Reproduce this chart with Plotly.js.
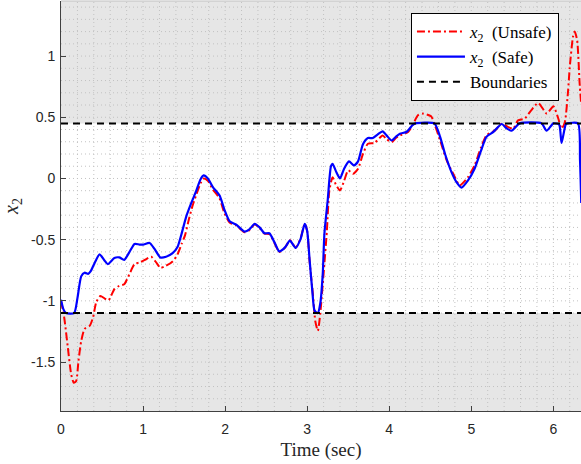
<!DOCTYPE html>
<html>
<head>
<meta charset="utf-8">
<script src="https://cdn.plot.ly/plotly-3.0.1.min.js"></script>
<style>html,body{margin:0;padding:0;background:#fff;}#chart{width:581px;height:464px;}</style>
</head>
<body>
<div id="chart"></div>
<script>
// ---- data ----
var tSafe = [0,0.03,0.06,0.16,0.2,0.246,0.287,0.33,0.36,0.41,0.47,0.53,0.57,0.65,0.71,0.77,0.835,0.896,0.957,1.0,1.08,1.14,1.21,1.28,1.36,1.42,1.466,1.527,1.588,1.649,1.698,1.738,1.79,1.851,1.933,1.994,2.055,2.137,2.238,2.30,2.36,2.42,2.48,2.54,2.60,2.66,2.73,2.79,2.86,2.92,2.97,3.0,3.03,3.063,3.09,3.13,3.16,3.19,3.21,3.25,3.29,3.31,3.35,3.40,3.45,3.51,3.57,3.62,3.68,3.74,3.80,3.86,3.92,3.97,4.03,4.08,4.13,4.21,4.29,4.32,4.55,4.62,4.68,4.76,4.82,4.88,4.96,5.04,5.12,5.185,5.27,5.37,5.43,5.49,5.59,5.856,5.917,6.0,6.07,6.10,6.15,6.17,6.30,6.325,6.34];
var x2Safe = [-0.99,-1.07,-1.10,-1.10,-0.98,-0.80,-0.77,-0.78,-0.76,-0.69,-0.62,-0.67,-0.70,-0.65,-0.645,-0.665,-0.60,-0.535,-0.54,-0.54,-0.527,-0.576,-0.645,-0.64,-0.61,-0.56,-0.46,-0.31,-0.20,-0.10,-0.01,0.025,0.0,-0.07,-0.14,-0.26,-0.35,-0.378,-0.434,-0.413,-0.371,-0.40,-0.448,-0.448,-0.52,-0.596,-0.563,-0.508,-0.568,-0.494,-0.371,-0.43,-0.67,-0.92,-1.08,-1.10,-1.02,-0.78,-0.45,-0.18,0.10,0.12,0.06,0.0,0.08,0.139,0.107,0.14,0.28,0.33,0.33,0.36,0.385,0.35,0.31,0.34,0.366,0.38,0.44,0.45,0.45,0.34,0.20,0.05,-0.03,-0.075,-0.016,0.079,0.23,0.34,0.38,0.445,0.41,0.39,0.45,0.45,0.39,0.45,0.44,0.29,0.44,0.45,0.45,0.15,-0.2];

var tUnsafe = [0,0.04,0.083,0.124,0.156,0.185,0.213,0.246,0.287,0.348,0.39,0.43,0.48,0.53,0.58,0.65,0.71,0.77,0.835,0.896,0.957,1.02,1.10,1.16,1.21,1.28,1.36,1.42,1.47,1.51,1.56,1.60,1.65,1.70,1.74,1.79,1.85,1.93,1.99,2.055,2.137,2.238,2.30,2.36,2.42,2.48,2.54,2.60,2.66,2.73,2.79,2.86,2.92,2.97,3.0,3.03,3.07,3.10,3.13,3.16,3.20,3.24,3.27,3.31,3.35,3.40,3.45,3.50,3.56,3.62,3.68,3.74,3.82,3.92,3.97,4.03,4.08,4.13,4.23,4.29,4.35,4.41,4.51,4.55,4.62,4.70,4.78,4.86,4.96,5.04,5.12,5.185,5.29,5.37,5.45,5.51,5.57,5.65,5.73,5.815,5.92,6.0,6.06,6.10,6.14,6.18,6.20,6.24,6.26,6.29,6.32,6.34];
var x2Unsafe = [-1.0,-1.14,-1.38,-1.60,-1.67,-1.655,-1.49,-1.33,-1.23,-1.205,-1.137,-1.01,-0.96,-0.98,-0.995,-0.905,-0.877,-0.865,-0.78,-0.70,-0.686,-0.666,-0.64,-0.686,-0.73,-0.713,-0.678,-0.62,-0.535,-0.467,-0.33,-0.23,-0.13,-0.04,0.0,-0.02,-0.09,-0.16,-0.28,-0.36,-0.385,-0.44,-0.42,-0.375,-0.405,-0.45,-0.455,-0.525,-0.60,-0.565,-0.505,-0.565,-0.49,-0.37,-0.43,-0.68,-0.95,-1.17,-1.245,-1.10,-0.78,-0.43,-0.10,0.01,-0.05,-0.098,-0.02,0.066,0.038,0.079,0.20,0.284,0.29,0.352,0.32,0.298,0.33,0.352,0.38,0.443,0.516,0.53,0.508,0.448,0.311,0.148,0.038,-0.057,0.011,0.107,0.257,0.352,0.393,0.448,0.42,0.407,0.475,0.489,0.557,0.617,0.53,0.59,0.49,0.407,0.46,0.72,0.91,1.16,1.20,1.13,0.78,0.60];

var boundUpper = 0.45;
var boundLower = -1.1;
var xMax = 6.337;
var yMin = -1.9, yMax = 1.45;

var xTickVals = [0,1,2,3,4,5,6];
var xTickText = ['0','1','2','3','4','5','6'];
var yTickVals = [-1.5,-1,-0.5,0,0.5,1];
var yTickText = ['-1.5','-1','-0.5','0','0.5','1'];
var xMinorStep = 0.2, yMinorStep = 0.1;

var legUnsafe = '<i>x</i><sub>2</sub>  (Unsafe)';
var legSafe = '<i>x</i><sub>2</sub>  (Safe)';
var legBound = 'Boundaries';
var xTitle = 'Time (sec)';
var yTitle = '<i>x</i><sub>2</sub>';

// grid positions derived from the axis ranges
function steps(lo, hi, st) {
  var out = [];
  var k0 = Math.ceil(lo / st - 1e-9), k1 = Math.floor(hi / st + 1e-9);
  for (var k = k0; k <= k1; k++) out.push(Math.round(k * st * 1000) / 1000);
  return out;
}
var xGridVals = steps(0, xMax, xMinorStep).filter(function (v) { return v > 0; });
var yGridVals = steps(yMin, yMax, yMinorStep).filter(function (v) { return v > yMin; });

var serif = 'Liberation Serif, DejaVu Serif, serif';
var sans = 'Liberation Sans, Arial, sans-serif';

var traces = [
  {x: tUnsafe, y: x2Unsafe, name: legUnsafe, mode: 'lines',
   line: {color: '#ff0000', width: 2, dash: '8px,3px,2px,3px', shape: 'spline', smoothing: 0.6}},
  {x: tSafe, y: x2Safe, name: legSafe, mode: 'lines',
   line: {color: '#0000ff', width: 2.2, shape: 'spline', smoothing: 0.6}},
  {x: [0, xMax, null, 0, xMax], y: [boundUpper, boundUpper, null, boundLower, boundLower],
   name: legBound, mode: 'lines', connectgaps: false,
   line: {color: '#000000', width: 2, dash: '7px,5px'}}
];

var shapes = [
  {type: 'rect', xref: 'paper', yref: 'y', x0: 0, x1: 1, y0: boundUpper, y1: yMax,
   fillcolor: '#e6e6e6', line: {width: 0}, layer: 'below'},
  {type: 'rect', xref: 'paper', yref: 'y', x0: 0, x1: 1, y0: yMin, y1: boundLower,
   fillcolor: '#e6e6e6', line: {width: 0}, layer: 'below'}
];
var gridLine = {color: '#c2c2c2', width: 1, dash: '1px,3px'};
xGridVals.forEach(function (v) {
  shapes.push({type: 'line', xref: 'x', yref: 'paper', x0: v, x1: v, y0: 0, y1: 1, line: gridLine, layer: 'below'});
});
yGridVals.forEach(function (v) {
  shapes.push({type: 'line', xref: 'paper', yref: 'y', x0: 0, x1: 1, y0: v, y1: v, line: gridLine, layer: 'below'});
});
shapes.push({type: 'line', xref: 'paper', yref: 'paper', x0: 0, x1: 1, y0: 1, y1: 1,
             line: {color: '#c0c0c0', width: 1}, layer: 'above'});

var layout = {
  width: 581, height: 464,
  margin: {l: 61, r: 0, t: 1, b: 53, pad: 0},
  paper_bgcolor: '#ffffff', plot_bgcolor: '#ffffff',
  showlegend: true,
  legend: {x: 0.673, y: 0.971, xanchor: 'left', yanchor: 'top', itemwidth: 48,
           bgcolor: '#ffffff', bordercolor: '#000000', borderwidth: 1,
           font: {family: serif, size: 17, color: '#000'}, tracegroupgap: 0},
  xaxis: {range: [0, xMax], tickmode: 'array', tickvals: xTickVals, ticktext: xTickText,
          ticks: 'inside', ticklen: 5, tickcolor: '#404040', tickwidth: 1,
          showline: true, linecolor: '#404040', linewidth: 1, zeroline: false,
          showgrid: false,
          tickfont: {family: sans, size: 14, color: '#262626'}, ticklabelstandoff: 5,
          title: {text: xTitle, font: {family: serif, size: 19, color: '#262626'}, standoff: 6}},
  yaxis: {range: [yMin, yMax], tickmode: 'array', tickvals: yTickVals, ticktext: yTickText,
          ticks: 'inside', ticklen: 5, tickcolor: '#404040', tickwidth: 1,
          showline: true, linecolor: '#404040', linewidth: 1, zeroline: false,
          showgrid: false,
          tickfont: {family: sans, size: 14, color: '#262626'}, ticklabelstandoff: 2,
          title: {text: yTitle, font: {family: serif, size: 20, color: '#262626'}, standoff: 14}},
  shapes: shapes
};

Plotly.newPlot('chart', traces, layout, {displayModeBar: false, staticPlot: true});
</script>
</body>
</html>
